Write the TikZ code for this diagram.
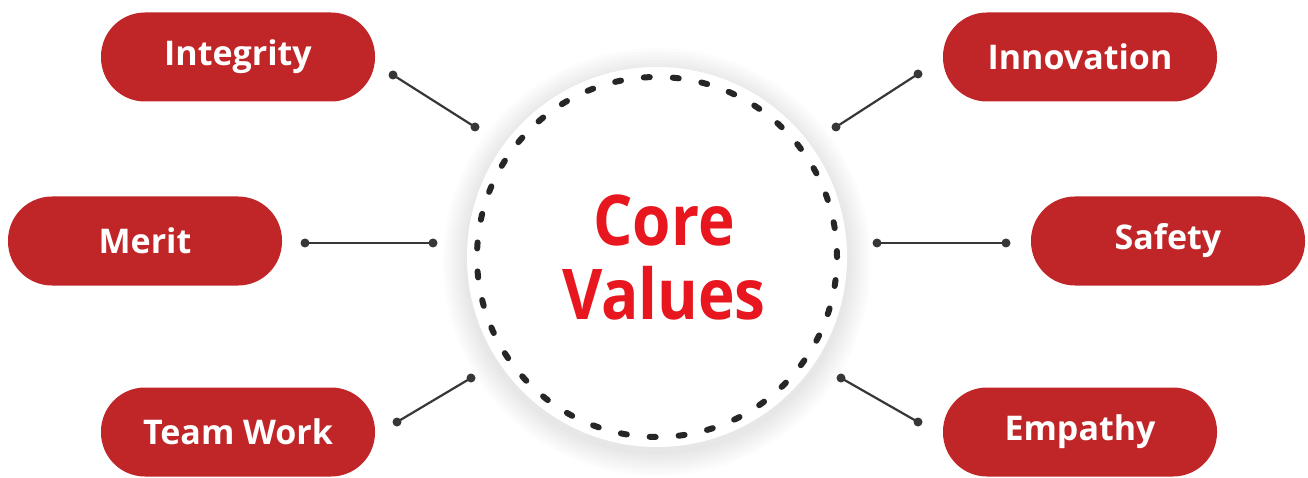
\documentclass[tikz,border=0pt]{standalone}
\usepackage{fontspec}
\setmainfont{Open Sans}
\definecolor{pillred}{RGB}{192,37,40}
\definecolor{corered}{RGB}{232,22,30}
\definecolor{linegray}{RGB}{55,55,55}
\tikzset{
  pill/.style={fill=pillred, text=white, rounded corners=44pt, minimum width=274pt, minimum height=89pt, inner sep=0pt, font=\bfseries\fontsize{34}{40}\selectfont},
  link/.style={draw=linegray, line width=2.2pt},
  enddot/.style={fill=linegray},
}
\begin{document}
\begin{tikzpicture}[x=1pt,y=-1pt]
\useasboundingbox (0,0) rectangle (1308,478);
% soft shadow of the disc
\foreach \r in {214,211,...,193}{
  \fill[black, opacity=0.012] (657,262) circle (\r pt);
}
\node[circle, fill=white, minimum size=380pt, inner sep=0pt] (disc) at (657,257) {};
\draw[line width=6pt, line cap=round, dash pattern=on 6pt off 23pt, black!85] (disc.center) circle (180pt);
\node[text=corered, inner sep=0pt, align=center, font=\bfseries\fontsize{62}{65.5}\selectfont, yscale=1.13, transform shape] (core) at (664,257) {Core\\Values};

\node[pill] (integrity) at (238,57) {Integrity};
\node[pill] (merit) at (145,241) {Merit};
\node[pill] (team) at (238,432) {Team Work};
\node[pill] (innov) at (1080,57) {Innovation};
\node[pill] (safety) at (1168,241) {Safety};
\node[pill] (empathy) at (1080,432) {Empathy};

\coordinate (a1) at (393,75);   \coordinate (a2) at (475,127);
\coordinate (b1) at (305,243);  \coordinate (b2) at (433,243);
\coordinate (c1) at (397,422);  \coordinate (c2) at (471,378);
\coordinate (d1) at (918,74);   \coordinate (d2) at (836,127);
\coordinate (e1) at (1006,243); \coordinate (e2) at (877,243);
\coordinate (f1) at (918,422);  \coordinate (f2) at (841,378);
\foreach \p/\q in {a1/a2,b1/b2,c1/c2,d1/d2,e1/e2,f1/f2}{
  \draw[link] (\p) -- (\q);
  \fill[enddot] (\p) circle (4.5pt);
  \fill[enddot] (\q) circle (4.5pt);
}
\end{tikzpicture}
\end{document}
